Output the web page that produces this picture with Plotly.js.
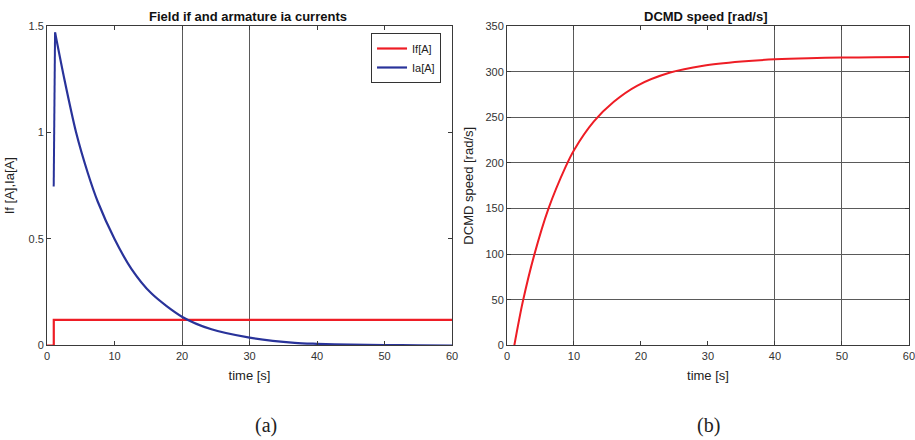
<!DOCTYPE html>
<html>
<head>
<meta charset="utf-8">
<script src="https://cdn.plot.ly/plotly-3.0.1.min.js"></script>
<style>html,body{margin:0;padding:0;background:#fff;}#chart{width:915px;height:440px;}</style>
</head>
<body>
<div id="chart"></div>
<script>
// Panel (a): field and armature currents
const timeIf = [0, 1.0, 1.0, 60];
const currentIf = [0, 0, 0.12, 0.12];
const timeIaStep = [0.99, 1.19];
const currentIaStep = [0.746, 1.47];
const timeIa = [1.19, 2.57, 4.31, 6.04, 7.52, 10, 12.5, 15.45, 20.05, 24.36, 30, 36.7, 40, 45, 50, 55, 60];
const currentIa = [1.47, 1.25, 1.0, 0.81, 0.675, 0.5, 0.36, 0.245, 0.134, 0.076, 0.037, 0.0126, 0.008, 0.004, 0.002, 0.001, 0.0];
// Panel (b): motor speed
const timeW = [1.09, 2.33, 4.06, 6.19, 8.76, 10, 12.97, 15.94, 19.4, 24.36, 29.3, 35, 40, 45, 50, 55, 60];
const speedW = [0, 47, 99, 150, 196, 214, 245.5, 267, 284.5, 299, 306.5, 311, 313.5, 314.8, 315.4, 315.7, 316];

const xTicks = [0, 10, 20, 30, 40, 50, 60];
const yTicksA = [0, 0.5, 1, 1.5];
const yTickTextA = ['0', '0.5', '1', '1.5'];
const yTicksB = [0, 50, 100, 150, 200, 250, 300, 350];
const gridXA = [20, 30];
const gridXB = [10, 40, 50];

const RED = '#ee1d25', BLUE = '#29339a';
const AX = '#3a3a3a', GRID = '#5a5a5a', TXT = '#333';
const FONT = 'Liberation Sans, Arial, sans-serif';

const data = [
  {x: timeIf, y: currentIf, type: 'scatter', mode: 'lines', name: 'If[A]', line: {color: RED, width: 2.2}, xaxis: 'x', yaxis: 'y'},
  {x: timeIa, y: currentIa, type: 'scatter', mode: 'lines', name: 'Ia[A]', legendgroup: 'ia', line: {color: BLUE, width: 2.2, shape: 'spline', smoothing: 0.8}, xaxis: 'x', yaxis: 'y'},
  {x: timeIaStep, y: currentIaStep, type: 'scatter', mode: 'lines', name: 'Ia[A]', legendgroup: 'ia', showlegend: false, line: {color: BLUE, width: 2}, xaxis: 'x', yaxis: 'y'},
  {x: timeW, y: speedW, type: 'scatter', mode: 'lines', name: 'speed', showlegend: false, line: {color: RED, width: 2, shape: 'spline', smoothing: 0.8}, xaxis: 'x2', yaxis: 'y2'},
  // empty carriers so the grid-only overlay axes are drawn
  {x: [], y: [], type: 'scatter', mode: 'lines', showlegend: false, hoverinfo: 'skip', xaxis: 'x3', yaxis: 'y'},
  {x: [], y: [], type: 'scatter', mode: 'lines', showlegend: false, hoverinfo: 'skip', xaxis: 'x4', yaxis: 'y2'}
];

const yDom = [0.2148, 0.9409];
const tickFont = {family: FONT, size: 11, color: TXT};
const titleFont = {family: FONT, size: 13, color: '#222'};
function baseAxis(extra) {
  return Object.assign({
    showline: true, linecolor: AX, linewidth: 1, mirror: 'ticks',
    ticks: 'inside', ticklen: 4, tickcolor: AX, tickwidth: 1,
    zeroline: false, showgrid: false, tickfont: tickFont, fixedrange: true,
    ticklabeloverflow: 'allow'
  }, extra);
}
function gridAxis(base, anchor, vals) {
  return {overlaying: base, anchor: anchor, range: [0, 60], tickvals: vals, showgrid: true, gridcolor: GRID, gridwidth: 1,
    showticklabels: false, ticks: '', showline: false, zeroline: false, fixedrange: true, layer: 'below traces'};
}

const layout = {
  width: 915, height: 440,
  margin: {l: 0, r: 0, t: 0, b: 0},
  paper_bgcolor: '#fff', plot_bgcolor: '#fff',
  font: {family: FONT, color: TXT},
  showlegend: true,
  legend: {
    x: 0.4055, y: 0.925, xanchor: 'left', yanchor: 'top',
    bordercolor: '#333', borderwidth: 1, bgcolor: '#fff',
    font: {family: FONT, size: 11, color: '#222'},
    itemwidth: 30, tracegroupgap: 0
  },
  xaxis: baseAxis({domain: [0.0514, 0.494], range: [0, 60], tickvals: xTicks, anchor: 'y',
    title: {text: 'time [s]', font: titleFont, standoff: 10}}),
  yaxis: baseAxis({domain: yDom, range: [0, 1.5], tickvals: yTicksA, ticktext: yTickTextA, anchor: 'x',
    title: {text: 'If [A],Ia[A]', font: titleFont, standoff: 10}}),
  xaxis3: gridAxis('x', 'y', gridXA),
  xaxis2: baseAxis({domain: [0.5541, 0.9934], range: [0, 60], tickvals: xTicks, anchor: 'y2',
    title: {text: 'time [s]', font: titleFont, standoff: 10}}),
  yaxis2: baseAxis({domain: yDom, range: [0, 350], tickvals: yTicksB, anchor: 'x2', showgrid: true, gridcolor: GRID, gridwidth: 1,
    title: {text: 'DCMD speed [rad/s]', font: titleFont, standoff: 8}}),
  xaxis4: gridAxis('x2', 'y2', gridXB),
  annotations: [
    {text: '<b>Field if and armature ia currents</b>', xref: 'paper', yref: 'paper', x: 0.2705, y: 0.9636,
      xanchor: 'center', yanchor: 'middle', showarrow: false, font: {family: FONT, size: 13, color: '#111'}},
    {text: '<b>DCMD speed [rad/s]</b>', xref: 'paper', yref: 'paper', x: 0.772, y: 0.9636,
      xanchor: 'center', yanchor: 'middle', showarrow: false, font: {family: FONT, size: 13, color: '#111'}},
    {text: '(a)', xref: 'paper', yref: 'paper', x: 0.2907, y: 0.034, xanchor: 'center', yanchor: 'middle',
      showarrow: false, font: {family: 'Liberation Serif, DejaVu Serif, serif', size: 20, color: '#222'}},
    {text: '(b)', xref: 'paper', yref: 'paper', x: 0.7738, y: 0.034, xanchor: 'center', yanchor: 'middle',
      showarrow: false, font: {family: 'Liberation Serif, DejaVu Serif, serif', size: 20, color: '#222'}}
  ]
};

Plotly.newPlot('chart', data, layout, {displayModeBar: false, staticPlot: true});
</script>
</body>
</html>
